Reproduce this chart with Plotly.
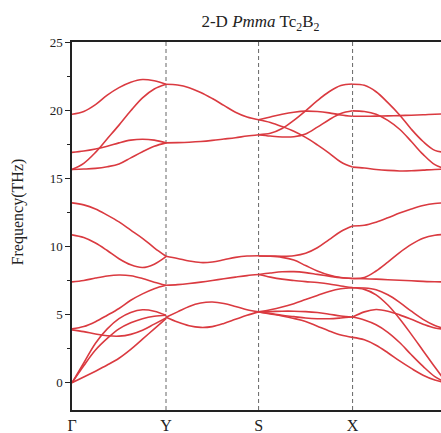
import plotly.graph_objects as go

# High-symmetry path: Γ - Y - S - X - Γ (path-length coordinates)
K_LABELS = ["Γ", "Y", "S", "X"]
K_POS = [0.0, 1.0, 1.985, 2.985, 3.985]

# Fractional positions along each segment where band energies are sampled
T_FRAC = [0.0, 0.125, 0.25, 0.375, 0.5, 0.625, 0.75, 0.875, 1.0]

# Phonon frequencies (THz) along Γ -> Y
BANDS_GY = [
    [19.7, 19.9, 20.4, 21.1, 21.65, 22.05, 22.25, 22.15, 21.9],
    [15.65, 16.1, 16.9, 17.9, 18.9, 19.95, 20.9, 21.55, 21.9],
    [16.9, 17.0, 17.15, 17.35, 17.6, 17.8, 17.87, 17.8, 17.6],
    [15.65, 15.68, 15.73, 15.85, 16.05, 16.5, 16.95, 17.35, 17.6],
    [13.2, 13.05, 12.75, 12.3, 11.8, 11.2, 10.6, 9.9, 9.28],
    [10.85, 10.65, 10.25, 9.7, 9.1, 8.65, 8.45, 8.7, 9.25],
    [7.4, 7.5, 7.68, 7.83, 7.9, 7.85, 7.65, 7.38, 7.15],
    [3.95, 4.12, 4.48, 4.95, 5.45, 6.05, 6.52, 6.9, 7.15],
    [3.88, 3.75, 3.58, 3.45, 3.42, 3.55, 3.85, 4.3, 4.75],
    [0.0, 1.45, 2.9, 3.95, 4.7, 5.15, 5.35, 5.25, 4.95],
    [0.0, 1.25, 2.4, 3.25, 3.95, 4.4, 4.7, 4.88, 4.95],
    [0.0, 0.42, 0.85, 1.3, 1.8, 2.45, 3.2, 3.95, 4.7],
]

# Y -> S (bands pairwise degenerate on this line)
BANDS_YS = [
    [21.9, 21.85, 21.65, 21.3, 20.85, 20.35, 19.85, 19.5, 19.3],
    [17.6, 17.62, 17.65, 17.7, 17.78, 17.88, 17.98, 18.1, 18.2],
    [9.28, 9.12, 8.93, 8.82, 8.86, 9.02, 9.2, 9.3, 9.32],
    [7.15, 7.2, 7.28, 7.38, 7.5, 7.63, 7.75, 7.86, 7.94],
    [4.8, 5.2, 5.6, 5.85, 5.92, 5.82, 5.6, 5.35, 5.2],
    [4.8, 4.45, 4.18, 4.06, 4.12, 4.35, 4.65, 4.95, 5.2],
]

# S -> X
BANDS_SX = [
    [19.3, 19.5, 19.7, 19.85, 19.93, 19.9, 19.8, 19.65, 19.55],
    [19.3, 19.1, 18.8, 18.45, 18.0, 17.45, 16.85, 16.2, 15.82],
    [18.2, 18.3, 18.65, 19.25, 19.95, 20.7, 21.35, 21.8, 21.92],
    [18.2, 18.1, 18.03, 18.05, 18.25, 18.75, 19.3, 19.75, 19.95],
    [9.3, 9.3, 9.28, 9.32, 9.5, 9.9, 10.5, 11.1, 11.5],
    [9.3, 9.28, 9.2, 9.0, 8.6, 8.2, 7.9, 7.72, 7.65],
    [7.94, 8.05, 8.14, 8.15, 8.08, 7.95, 7.82, 7.7, 7.65],
    [7.94, 7.75, 7.6, 7.5, 7.42, 7.35, 7.25, 7.1, 6.98],
    [5.2, 5.35, 5.55, 5.8, 6.1, 6.4, 6.7, 6.9, 6.97],
    [5.2, 5.22, 5.25, 5.25, 5.22, 5.15, 5.03, 4.9, 4.82],
    [5.2, 5.08, 4.95, 4.85, 4.75, 4.7, 4.7, 4.75, 4.82],
    [5.2, 5.05, 4.9, 4.72, 4.5, 4.15, 3.8, 3.5, 3.33],
]

# X -> Γ
BANDS_XG = [
    [21.9, 21.82, 21.35, 20.55, 19.65, 18.6, 17.7, 17.05, 16.9],
    [19.95, 19.9, 19.7, 19.25, 18.6, 17.7, 16.75, 16.0, 15.68],
    [19.55, 19.55, 19.56, 19.58, 19.6, 19.63, 19.66, 19.7, 19.72],
    [15.82, 15.75, 15.65, 15.58, 15.54, 15.55, 15.6, 15.65, 15.68],
    [11.5, 11.55, 11.78, 12.1, 12.45, 12.75, 13.0, 13.15, 13.2],
    [7.65, 7.72, 8.2, 8.85, 9.55, 10.15, 10.6, 10.82, 10.88],
    [7.65, 7.63, 7.6, 7.56, 7.52, 7.48, 7.44, 7.41, 7.4],
    [6.97, 6.95, 6.82, 6.45, 5.9, 5.25, 4.65, 4.2, 3.92],
    [6.97, 6.85, 6.45, 5.7, 4.7, 3.55, 2.35, 1.15, 0.0],
    [4.82, 5.2, 5.37, 5.25, 4.98, 4.65, 4.3, 4.02, 3.92],
    [4.82, 4.6, 4.25, 3.7, 2.95, 2.05, 1.2, 0.45, 0.0],
    [3.33, 3.15, 2.75, 2.2, 1.6, 1.05, 0.55, 0.2, 0.0],
]

SEGMENTS = [BANDS_GY, BANDS_YS, BANDS_SX, BANDS_XG]

BAND_COLOR = "rgb(218,58,64)"
SERIF = "Liberation Serif, Times New Roman, serif"

fig = go.Figure()

for i, bands in enumerate(SEGMENTS):
    k0, k1 = K_POS[i], K_POS[i + 1]
    kx = [k0 + t * (k1 - k0) for t in T_FRAC]
    for band in bands:
        fig.add_trace(go.Scatter(
            x=kx, y=band, mode="lines",
            line=dict(color=BAND_COLOR, width=1.6, shape="spline", smoothing=1.0),
            showlegend=False, hoverinfo="skip",
        ))

# Dashed guides at the interior high-symmetry points
for k in K_POS[1:4]:
    fig.add_shape(type="line", xref="x", yref="paper", x0=k, x1=k, y0=0, y1=1,
                  line=dict(color="#666666", width=1, dash="4px,3px"), layer="below")

fig.add_annotation(
    text="Frequency(THz)", textangle=-90,
    xref="paper", x=(18 - 72) / 369, xanchor="center",
    yref="y", y=12.5, yanchor="middle",
    showarrow=False, font=dict(family=SERIF, size=16, color="#222222"),
)

fig.update_layout(
    width=441, height=433,
    margin=dict(l=72, r=0, t=42, b=23),
    paper_bgcolor="white", plot_bgcolor="white",
    title=dict(
        text="2-D <i>Pmma</i> Tc<sub>2</sub>B<sub>2</sub>",
        xref="container", x=260.5 / 441, xanchor="center",
        yref="container", y=1 - 21 / 433, yanchor="middle",
        font=dict(family=SERIF, size=17, color="#222222"),
    ),
    xaxis=dict(
        range=[0, 369 / 94], tickvals=K_POS[:4], ticktext=K_LABELS,
        ticks="", showgrid=False, zeroline=False,
        showline=True, mirror=True, linecolor="#222222", linewidth=1.5,
        tickfont=dict(family=SERIF, size=16, color="#222222"),
    ),
    yaxis=dict(
        range=[-2, 25], tick0=0, dtick=5,
        ticks="outside", ticklen=5, tickwidth=1.2, tickcolor="#222222",
        minor=dict(ticks="outside", ticklen=3, tickwidth=1, tickcolor="#222222",
                   tick0=0, dtick=2.5),
        showgrid=False, zeroline=False,
        showline=True, mirror=False, linecolor="#222222", linewidth=1.5,
        tickfont=dict(family=SERIF, size=13, color="#222222"),
    ),
)

fig.write_html("out.html")
